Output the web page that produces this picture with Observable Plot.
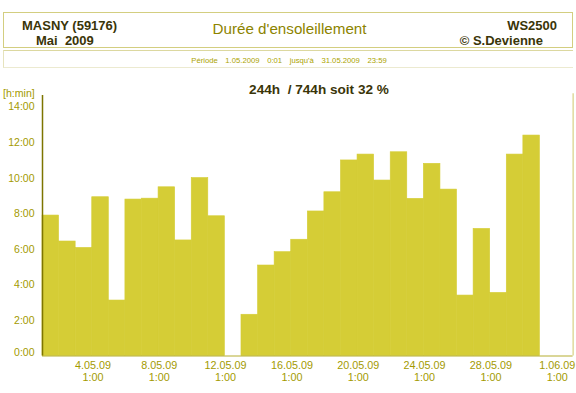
<!DOCTYPE html>
<html>
<head>
<meta charset="utf-8">
<script src="https://cdn.jsdelivr.net/npm/d3@7"></script>
<script src="https://cdn.jsdelivr.net/npm/@observablehq/plot@0.6"></script>
<style>
html, body { margin: 0; padding: 0; background: #ffffff; }
#wrap { position: relative; width: 576px; height: 393px; overflow: hidden; font-family: "Liberation Sans", Arial, sans-serif; }
.t { position: absolute; white-space: pre; line-height: 1; }
.dark { color: #3a3508; font-weight: bold; font-size: 13px; }
#hdrbox { position: absolute; left: 3px; top: 12px; width: 568px; height: 34px; border: 1.5px solid #d3ce80; }
#perbox { position: absolute; left: 3px; top: 50px; width: 569px; height: 16px; border-top: 1px solid #dcd8a0; border-left: 1px solid #e6e3bd; border-bottom: 1px solid #ecead0; }
#chart { position: absolute; left: 0; top: 0; }
#period { position: absolute; left: 289px; top: 60px; transform: translate(-50%, -50%); display: flex; gap: 7.6px; font-size: 7.7px; color: #aba300; white-space: pre; }
</style>
</head>
<body>
<div id="wrap">
  <div id="hdrbox"></div>
  <div id="perbox"></div>
  <div id="chart"></div>
  <div class="t dark" id="station" style="left:22px; top:19px;"></div>
  <div class="t dark" id="month" style="left:36px; top:34px;"></div>
  <div class="t" id="title" style="left:289.5px; top:28.5px; transform:translate(-50%,-50%); font-size:15.2px; color:#8c8300;"></div>
  <div class="t dark" id="device" style="right:19px; top:18.5px;"></div>
  <div class="t dark" id="author" style="right:33px; top:33.5px;"></div>
  <div id="period"></div>
  <div class="t dark" id="summary" style="left:319px; top:89.5px; transform:translate(-50%,-50%); font-size:13.6px;"></div>
  <div class="t" id="yunit" style="left:3px; top:87.5px; font-size:10.6px; color:#a39a00;"></div>
</div>
<script>
// ---- texts ----
const stationText = "MASNY (59176)";
const monthText = "Mai  2009";
const titleText = "Durée d'ensoleillement";
const deviceText = "WS2500";
const authorText = "© S.Devienne";
const periodParts = ["Période", "1.05.2009", "0:01", "jusqu'à", "31.05.2009", "23:59"];
const summaryText = "244h  / 744h soit 32 %";
const yUnitText = "[h:min]";

// ---- data: day of May 2009 and daily sunshine duration (hours) ----
const days = [1, 2, 3, 4, 5, 6, 7, 8, 9, 10, 11, 12, 13, 14, 15, 16, 17, 18, 19, 20, 21, 22, 23, 24, 25, 26, 27, 28, 29, 30, 31];
const sunHours = [7.90, 6.44, 6.08, 8.93, 3.12, 8.80, 8.85, 9.49, 6.50, 10.01, 7.86, 0, 2.32, 5.09, 5.84, 6.54, 8.13, 9.21, 11.00, 11.33, 9.87, 11.46, 8.84, 10.81, 9.36, 3.40, 7.15, 3.55, 11.33, 12.40, 0];

// ---- ticks ----
const yTicks = [0, 2, 4, 6, 8, 10, 12, 14];
const yTickLabels = ["0:00", "2:00", "4:00", "6:00", "8:00", "10:00", "12:00", "14:00"];
const xTickDays = [4, 8, 12, 16, 20, 24, 28, 32];
const xTickLabels = ["4.05.09\n1:00", "8.05.09\n1:00", "12.05.09\n1:00", "16.05.09\n1:00", "20.05.09\n1:00", "24.05.09\n1:00", "28.05.09\n1:00", "1.06.09\n1:00"];

document.getElementById("station").textContent = stationText;
document.getElementById("month").textContent = monthText;
document.getElementById("title").textContent = titleText;
document.getElementById("device").textContent = deviceText;
document.getElementById("author").textContent = authorText;
document.getElementById("summary").textContent = summaryText;
document.getElementById("yunit").textContent = yUnitText;
const per = document.getElementById("period");
periodParts.forEach(p => { const s = document.createElement("span"); s.textContent = p; per.appendChild(s); });

const data = days.map((d, i) => ({day: d, hours: sunHours[i]}));
const xTickVals = xTickDays.map(d => d - 1 + 1 / 24);
const olive = "#a39a00";
const barColor = "#d5cd36";

const chart = Plot.plot({
  width: 576,
  height: 393,
  marginLeft: 42,
  marginRight: 3.4,
  marginTop: 106.6,
  marginBottom: 37.5,
  x: {type: "linear", domain: [0, 32], axis: null},
  y: {type: "linear", domain: [0, 14], axis: null},
  style: {background: "transparent", fontFamily: "'Liberation Sans', Arial, sans-serif"},
  marks: [
    Plot.rectY(data.filter(d => d.hours > 0), {x1: d => d.day - 1, x2: d => d.day, y1: 0, y2: "hours", fill: barColor, stroke: barColor, strokeWidth: 0.6}),
    Plot.ruleY([0], {x1: 0, x2: 32, stroke: "#b5ad30", strokeWidth: 1}),
    Plot.ruleX([0], {y1: 0, y2: 14.65, stroke: "#7d7500", strokeWidth: 1.5}),
    Plot.ruleX([32], {y1: 0, y2: 14.75, stroke: "#cfc86a", strokeWidth: 1}),
    Plot.axisY(yTicks.slice(1), {
      tickFormat: d => yTickLabels[yTicks.indexOf(d)],
      tickSize: 0, tickPadding: 8, color: olive, fontSize: 10.5, label: null
    }),
    Plot.axisY([0], {
      tickFormat: d => yTickLabels[yTicks.indexOf(d)],
      tickSize: 0, tickPadding: 8, color: olive, fontSize: 10.5, dy: -3.5, label: null
    }),
    Plot.axisX(xTickVals, {
      tickFormat: d => xTickLabels[xTickVals.indexOf(d)],
      tickSize: 0, tickPadding: 5, color: olive, fontSize: 10.8, lineHeight: 1.08, label: null
    })
  ]
});
document.getElementById("chart").appendChild(chart);
</script>
</body>
</html>
